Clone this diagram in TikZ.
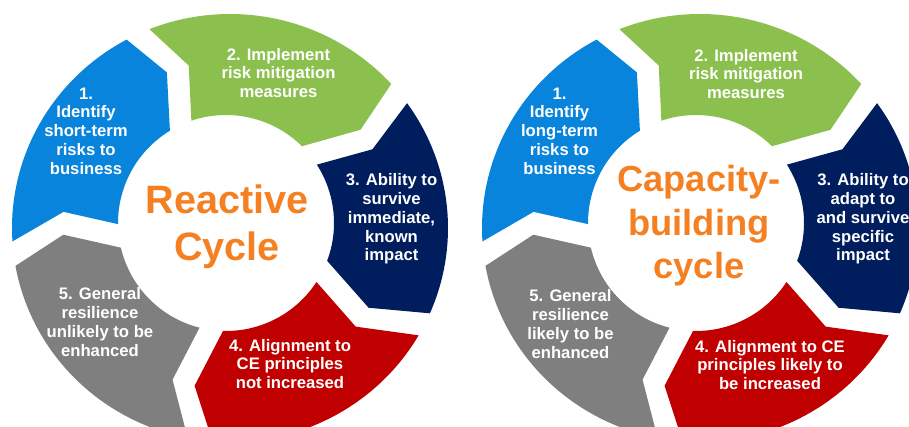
\documentclass[tikz,border=0pt]{standalone}
\usepackage{fontspec}
\setmainfont{Liberation Sans}

\definecolor{segblue}{RGB}{8,132,220}
\definecolor{seggreen}{RGB}{139,192,78}
\definecolor{segnavy}{RGB}{0,30,94}
\definecolor{segred}{RGB}{192,0,0}
\definecolor{seggrey}{RGB}{127,127,127}
\definecolor{titleorange}{RGB}{244,128,34}

\tikzset{every picture/.style={line width=0.75pt}}
\tikzset{
  steptxt/.style={text=white, font=\fontsize{12.5}{14.1}\selectfont\bfseries, align=center, inner sep=0.75pt},
  cycletitle/.style={text=titleorange, font=\fontsize{29.7}{35.3}\selectfont\bfseries, align=center, inner sep=0.75pt}
}

% one arrow segment of a cycle: #1,#2 centre, #3 colour, #4 tail angle, #5 head angle
\newcommand{\cycleseg}[5]{%
  \fill[#3] ([shift={(#1+3,#2+3)}]#4-4.2:218 and 214) arc[start angle=#4-4.2, end angle=#5-10.8, x radius=218, y radius=214]
    -- ([shift={(#1,#2)}]#5-4:164)
    -- ([shift={(#1-1,#2-2)}]#5-13.8:108) arc[start angle=#5-13.8, end angle=#4-1.2, radius=108]
    -- ([shift={(#1,#2)}]#4+4:164) -- cycle;}

\begin{document}
\begin{tikzpicture}[x=0.75pt,y=0.75pt,yscale=-1,xscale=1]
\useasboundingbox (0,0) rectangle (909,427);
\clip (0,0) rectangle (909,427);

%Shape: Reactive cycle
\cycleseg{227}{225}{segblue}{-179.4}{-107.5}
\cycleseg{227}{225}{seggreen}{-107.5}{-31.5}
\cycleseg{227}{225}{segnavy}{-31.5}{34.3}
\cycleseg{227}{225}{segred}{34.3}{105.4}
\cycleseg{227}{225}{seggrey}{105.4}{180.6}
%Shape: Capacity-building cycle
\cycleseg{697}{225}{segblue}{-179.4}{-107.5}
\cycleseg{697}{225}{seggreen}{-107.5}{-31.5}
\cycleseg{697}{225}{segnavy}{-31.5}{34.3}
\cycleseg{697}{225}{segred}{34.3}{105.4}
\cycleseg{697}{225}{seggrey}{105.4}{180.6}

% Text Node
\node (reacttitle) [cycletitle] at (227,227) {Reactive\\Cycle};
% Text Node
\node (reactone) [steptxt] at (86,131) {1.\\Identify\\short-term\\risks to\\business};
% Text Node
\node (reacttwo) [steptxt] at (278.5,73) {2. Implement\\risk mitigation\\measures};
% Text Node
\node (reactthree) [steptxt] at (391.5,219) {3. Ability to\\survive\\immediate,\\known\\impact};
% Text Node
\node (reactfour) [steptxt] at (290,364) {4. Alignment to\\CE principles\\not increased};
% Text Node
\node (reactfive) [steptxt] at (100,322) {5. General\\resilience\\unlikely to be\\enhanced};

% Text Node
\node (capatitle) [cycletitle, font=\fontsize{27.2}{32.6}\selectfont\bfseries] at (699,226) {Capacity-\\building\\cycle};
% Text Node
\node (capaone) [steptxt] at (559.5,131) {1.\\Identify\\long-term\\risks to\\business};
% Text Node
\node (capatwo) [steptxt] at (746,74) {2. Implement\\risk mitigation\\measures};
% Text Node
\node (capathree) [steptxt] at (863,219) {3. Ability to\\adapt to\\and survive\\specific\\impact};
% Text Node
\node (capafour) [steptxt] at (770,365) {4. Alignment to CE\\principles likely to\\be increased};
% Text Node
\node (capafive) [steptxt] at (570.5,324) {5. General\\resilience\\likely to be\\enhanced};

\end{tikzpicture}
\end{document}
